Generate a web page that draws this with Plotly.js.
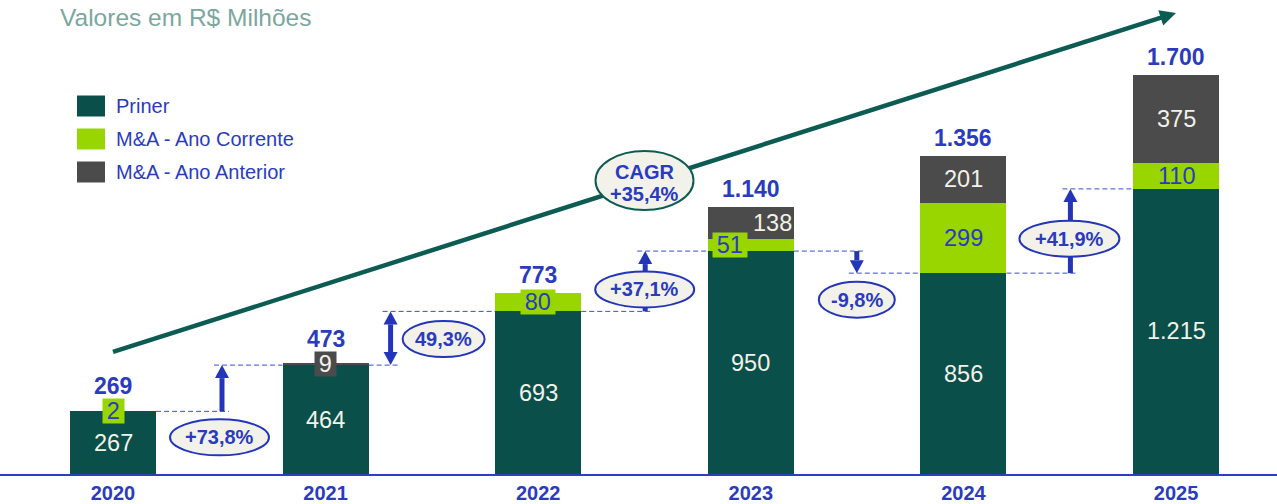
<!DOCTYPE html>
<html>
<head>
<meta charset="utf-8">
<script src="https://cdn.plot.ly/plotly-3.0.1.min.js"></script>
<style>html,body{margin:0;padding:0;background:#fff}#chart{width:1277px;height:504px}</style>
</head>
<body>
<div id="chart"></div>
<script>
// ---------- DATA ----------
const years = ['2020', '2021', '2022', '2023', '2024', '2025'];
const priner = [267, 464, 693, 950, 856, 1215];
const maCorrente = [2, 0, 80, 51, 299, 110];
const maAnterior = [0, 9, 0, 138, 201, 375];
const totals = [269, 473, 773, 1140, 1356, 1700];
const growthLabels = ['+73,8%', '49,3%', '+37,1%', '-9,8%', '+41,9%'];
const cagrLabels = ['CAGR', '+35,4%'];
const seriesNames = ['Priner', 'M&A - Ano Corrente', 'M&A - Ano Anterior'];
const titleText = 'Valores em R$ Milhões';

// ---------- STYLE / LAYOUT CONSTANTS ----------
const W = 1277, H = 504, MB = 30, PLOT_H = H - MB;
const Y_MAX = 2020;
const X_RANGE = [-0.5315, 5.475];
const PXU = PLOT_H / Y_MAX;                       // px per value unit
const PXC = W / (X_RANGE[1] - X_RANGE[0]);        // px per category
const BAR_W = 0.405;
const FONT = 'Liberation Sans, Arial, sans-serif';
const C_PRINER = '#0b4f4b', C_CORR = '#99d600', C_ANT = '#4b4b4b';
const BLUE = '#2a3bbf', ARROW_BLUE = '#2335b8', CREAM = '#f3f2ea', LIGHT = '#f2f2e8';
const TEAL = '#0d5c53';
const colors = [C_PRINER, C_CORR, C_ANT];
const series = [priner, maCorrente, maAnterior];

const fmt = v => String(v).replace(/\B(?=(\d{3})+(?!\d))/g, '.');

// ---------- TRACES ----------
const traces = series.map((vals, k) => ({
  type: 'bar', x: years, y: vals, name: seriesNames[k],
  marker: {color: colors[k]}, width: BAR_W, hoverinfo: 'none', showlegend: false
}));

const annotations = [];
const shapes = [];

// ---------- SEGMENT LABELS ----------
const BOX_H = 24;
years.forEach((yr, i) => {
  let base = 0;
  let prevSmall = false;
  let topBoxExtra = 0;
  series.forEach((vals, k) => {
    const v = vals[i];
    if (!v) return;
    const mid = base + v / 2;
    base += v;
    const small = v * PXU < 24;
    const hasAbove = series.slice(k + 1).some(s => s[i] > 0);
    let xshift = 0;
    if (small && hasAbove) xshift = -21;
    else if (prevSmall) xshift = 22;
    const a = {
      x: i, y: mid, xref: 'x', yref: 'y', text: fmt(v), showarrow: false,
      xshift: xshift,
      font: {family: FONT, size: 23.5, color: k === 1 ? BLUE : LIGHT}
    };
    if (small) {
      a.bgcolor = colors[k];
      a.width = String(v).length * 13 + 7.5;
      a.height = BOX_H;
      a.borderpad = 0;
    }
    annotations.push(a);
    topBoxExtra = small && !hasAbove ? Math.max(0, BOX_H / 2 - v * PXU / 2) : 0;
    prevSmall = small;
  });
  annotations.push({
    x: i, y: totals[i], xref: 'x', yref: 'y', text: fmt(totals[i]), showarrow: false,
    yanchor: 'middle', yshift: Math.max(18, topBoxExtra + 13),
    font: {family: FONT, size: 23, color: BLUE, weight: 700}
  });
});

// ---------- GROWTH ARROWS & BADGES ----------
const gapStyle = [
  {arrowPx: 109, both: false, dx: -2.5, dy: -26, w: 99},
  {arrowPx: 65,  both: true,  dx: 53,   dy: 26,  w: 82},
  {arrowPx: 107, both: false, dx: -0.5, dy: 22,  w: 99},
  {arrowPx: 106, both: false, dx: 0,    dy: -26.5, w: 76},
  {arrowPx: 107, both: false, dx: -1,   dy: 34.5, w: 100}
];
const HEAD_H = 13, HEAD_HW = 7, BADGE_H = 36;
const dashLine = {color: '#3b4fd0', width: 1, dash: '5px,3px'};

growthLabels.forEach((lab, g) => {
  const st = gapStyle[g];
  const lvA = priner[g], lvB = priner[g + 1];
  const ax = g + st.arrowPx / PXC;
  const up = lvB > lvA;
  shapes.push({type: 'line', xref: 'x', yref: 'y', x0: g + BAR_W / 2, x1: ax + 7 / PXC, y0: lvA, y1: lvA, line: dashLine});
  shapes.push({type: 'line', xref: 'x', yref: 'y', x0: ax - 8 / PXC, x1: g + 1 - BAR_W / 2, y0: lvB, y1: lvB, line: dashLine});
  const hd = HEAD_H / PXU;
  const y0 = st.both ? lvA + (up ? hd : -hd) : lvA;
  const y1 = lvB + (up ? -hd : hd);
  shapes.push({type: 'line', xref: 'x', yref: 'y', x0: ax, x1: ax, y0: y0, y1: y1, line: {color: ARROW_BLUE, width: 5}});
  const headUp = `M0,0 L${-HEAD_HW},${-HEAD_H} L${HEAD_HW},${-HEAD_H} Z`;
  const headDown = `M0,0 L${-HEAD_HW},${HEAD_H} L${HEAD_HW},${HEAD_H} Z`;
  shapes.push({type: 'path', xref: 'x', yref: 'y', xsizemode: 'pixel', ysizemode: 'pixel',
    xanchor: ax, yanchor: lvB, path: up ? headUp : headDown,
    fillcolor: ARROW_BLUE, line: {width: 0}});
  if (st.both) {
    shapes.push({type: 'path', xref: 'x', yref: 'y', xsizemode: 'pixel', ysizemode: 'pixel',
      xanchor: ax, yanchor: lvA, path: up ? headDown : headUp,
      fillcolor: ARROW_BLUE, line: {width: 0}});
  }
  const lower = Math.min(lvA, lvB);
  shapes.push({type: 'circle', xref: 'x', yref: 'y', xsizemode: 'pixel', ysizemode: 'pixel',
    xanchor: ax, yanchor: lower,
    x0: st.dx - st.w / 2, x1: st.dx + st.w / 2, y0: st.dy - BADGE_H / 2, y1: st.dy + BADGE_H / 2,
    fillcolor: CREAM, line: {color: ARROW_BLUE, width: 2}});
  annotations.push({x: ax, y: lower, xref: 'x', yref: 'y', xshift: st.dx, yshift: st.dy,
    text: lab, showarrow: false, yanchor: 'middle',
    font: {family: FONT, size: 20, color: BLUE, weight: 700}});
});

// ---------- TREND ARROW + CAGR ----------
const TREND_TAIL = {x: 0, y: 520};
const TREND_TIP = {x: 5, y: 1965};
const dxp = (TREND_TIP.x - TREND_TAIL.x) * PXC;
const dyp = (TREND_TIP.y - TREND_TAIL.y) * PXU;
const len = Math.hypot(dxp, dyp);
const ux = dxp / len, uy = dyp / len;
const TH_L = 16, TH_W = 8;
shapes.push({type: 'line', xref: 'x', yref: 'y',
  x0: TREND_TAIL.x, y0: TREND_TAIL.y,
  x1: TREND_TIP.x - 10 * ux / PXC, y1: TREND_TIP.y - 10 * uy / PXU,
  line: {color: TEAL, width: 4.5}});
{
  const bx = -TH_L * ux, by = -TH_L * uy;
  const nx = -uy, ny = ux;
  const p = `M0,0 L${(bx + TH_W * nx).toFixed(2)},${(by + TH_W * ny).toFixed(2)} L${(bx - TH_W * nx).toFixed(2)},${(by - TH_W * ny).toFixed(2)} Z`;
  shapes.push({type: 'path', xref: 'x', yref: 'y', xsizemode: 'pixel', ysizemode: 'pixel',
    xanchor: TREND_TIP.x, yanchor: TREND_TIP.y, path: p, fillcolor: TEAL, line: {width: 0}});
}
const cx = (TREND_TAIL.x + TREND_TIP.x) / 2, cy = (TREND_TAIL.y + TREND_TIP.y) / 2;
shapes.push({type: 'circle', xref: 'x', yref: 'y', xsizemode: 'pixel', ysizemode: 'pixel',
  xanchor: cx, yanchor: cy, x0: -49, x1: 49, y0: 2 - 29.5, y1: 2 + 29.5,
  fillcolor: CREAM, line: {color: TEAL, width: 2}});
annotations.push({x: cx, y: cy, xref: 'x', yref: 'y', yshift: 10.5, text: cagrLabels[0], showarrow: false,
  yanchor: 'middle', font: {family: FONT, size: 20, color: BLUE, weight: 700}});
annotations.push({x: cx, y: cy, xref: 'x', yref: 'y', yshift: -11.5, text: cagrLabels[1], showarrow: false,
  yanchor: 'middle', font: {family: FONT, size: 20, color: BLUE, weight: 700}});

// ---------- LEGEND (manual) ----------
const px2paperX = px => px / W;
const px2paperY = py => (PLOT_H - py) / PLOT_H;
const LEG_X = 77, LEG_SW = 28, LEG_SH = 21, LEG_Y0 = 106, LEG_DY = 33;
seriesNames.forEach((nm, k) => {
  const cyp = LEG_Y0 + k * LEG_DY;
  shapes.push({type: 'rect', xref: 'paper', yref: 'paper',
    x0: px2paperX(LEG_X), x1: px2paperX(LEG_X + LEG_SW),
    y0: px2paperY(cyp + LEG_SH / 2), y1: px2paperY(cyp - LEG_SH / 2),
    fillcolor: colors[k], line: {width: 0}});
  annotations.push({xref: 'paper', yref: 'paper', x: px2paperX(LEG_X + LEG_SW + 9), y: px2paperY(cyp),
    xanchor: 'left', yanchor: 'middle', text: nm, showarrow: false,
    font: {family: FONT, size: 20, color: BLUE}});
});

const layout = {
  width: W, height: H,
  margin: {l: 0, r: 0, t: 0, b: MB, pad: 0},
  paper_bgcolor: '#ffffff', plot_bgcolor: '#ffffff',
  barmode: 'stack',
  showlegend: false,
  title: {text: titleText, xref: 'container', yref: 'container', x: 60 / W, xanchor: 'left',
    y: 1 - 17 / H, yanchor: 'middle', font: {family: FONT, size: 24.5, color: '#7ba79e'}},
  xaxis: {type: 'category', range: X_RANGE, showline: true, linecolor: '#2b3fc2', linewidth: 2,
    showgrid: false, zeroline: false, ticks: '', ticklabelstandoff: 0,
    tickfont: {family: FONT, size: 20, color: BLUE, weight: 700}, fixedrange: true},
  yaxis: {range: [0, Y_MAX], visible: false, fixedrange: true},
  shapes: shapes,
  annotations: annotations
};

Plotly.newPlot('chart', traces, layout, {displayModeBar: false, staticPlot: true});
</script>
</body>
</html>
